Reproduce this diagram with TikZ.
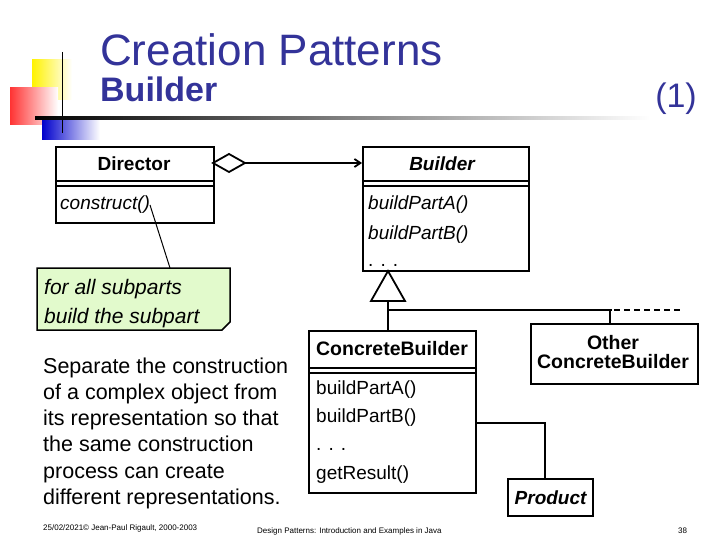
\documentclass[tikz,border=0pt]{standalone}
\usepackage{fontspec}
\setmainfont{Liberation Sans}
\usetikzlibrary{arrows.meta}
\begin{document}
\begin{tikzpicture}[x=1pt,y=-1pt,
  box/.style={draw,line width=2.2pt,inner sep=0pt},
  lnk/.style={line width=2pt},
  ttl/.style={text=titleblue,anchor=base west,inner sep=0pt},
  txt/.style={anchor=base west,inner sep=0pt,font=\fontsize{19}{22}\selectfont},
  foot/.style={anchor=base west,inner sep=0pt,font=\fontsize{8}{9}\selectfont}]
\definecolor{titleblue}{RGB}{51,51,153}
\definecolor{notegreen}{RGB}{226,250,204}
\useasboundingbox (0,0) rectangle (720,540);
% decoration
\shade[left color=yellow!90!orange,right color=white] (32,60) rectangle (72,100);
\shade[left color=red!80,right color=white] (10,88) rectangle (58,125);
\shade[left color=blue!80!black,right color=white] (42,118) rectangle (100,140);
\draw[line width=1pt] (62,52) -- (62,133);
\shade[left color=black,right color=white] (35,117) rectangle (650,119.5);
% titles
\node[ttl,font=\fontsize{44}{48}\selectfont] (t1) at (100,66) {Creation Patterns};
\node[ttl,font=\fontsize{34}{38}\selectfont\bfseries] (t2) at (100,102) {Builder};
\node[ttl,anchor=base east,font=\fontsize{34}{38}\selectfont] (t3) at (697,108) {(1)};
% Director
\node[box,minimum width=158pt,minimum height=76pt,anchor=north west] (dir) at (55,146) {};
\draw[line width=1.8pt] (55,181) -- (213,181) (55,186) -- (213,186);
\node[font=\fontsize{19}{20}\selectfont\bfseries] (dirt) at (134,164) {Director};
\node[txt,font=\fontsize{19}{22}\selectfont\itshape] (con) at (60,210) {construct()};
% Builder
\node[box,minimum width=166pt,minimum height=124pt,anchor=north west] (bld) at (362,146) {};
\draw[line width=1.8pt] (362,181) -- (528,181) (362,186) -- (528,186);
\node[font=\fontsize{19}{20}\selectfont\bfseries\itshape] (bldt) at (442,164) {Builder};
\node[txt,font=\fontsize{19}{22}\selectfont\itshape] (ba) at (368,210) {buildPartA()};
\node[txt,font=\fontsize{19}{22}\selectfont\itshape] (bb) at (368,240) {buildPartB()};
\node[txt] (bd) at (368,266) {. . .};
% aggregation
\coordinate (dm) at (213,163);
\draw[line width=1.8pt,fill=white] (dm) -- ++(16,-9) -- ++(16,9) -- ++(-16,9) -- cycle;
\draw[line width=1.8pt,-{Straight Barb[length=6pt,width=8pt]}] (245,163) -- (bld.west |- 0,163);
% note
\draw[line width=1.5pt,fill=notegreen] (37,268) -- (230,268) -- (230,322) -- (222,330) -- (37,330) -- cycle;
\node[txt,font=\fontsize{21}{24}\selectfont\itshape] (n1) at (44,294) {for all subparts};
\node[txt,font=\fontsize{21}{24}\selectfont\itshape] (n2) at (44,323) {build the subpart};
\draw[line width=1pt] (150,205) -- (170,268);
% inheritance
\coordinate (apex) at (388,271);
\draw[line width=1.8pt,fill=white] (apex) -- (405,301) -- (371,301) -- cycle;
\draw[lnk] (388,301) -- (388,330);
\draw[lnk] (387,310) -- (612,310);
\draw[lnk,dash pattern=on 6pt off 4pt] (614,310) -- (682,310);
\draw[lnk] (610,310) -- (610,323);
% ConcreteBuilder
\node[box,minimum width=167pt,minimum height=162pt,anchor=north west] (cb) at (308,330) {};
\draw[line width=1.8pt] (308,368) -- (475,368) (308,373) -- (475,373);
\node[font=\fontsize{19.5}{20}\selectfont\bfseries] (cbt) at (392,349) {ConcreteBuilder};
\node[txt] (ca) at (316,394) {buildPartA()};
\node[txt] (cbb) at (316,422) {buildPartB()};
\node[txt] (cd) at (316,450) {. . .};
\node[txt] (cg) at (316,479) {getResult()};
% Other
\node[box,minimum width=167pt,minimum height=60pt,anchor=north west] (oc) at (530,323) {};
\node[align=center,font=\fontsize{19.5}{19}\selectfont\bfseries] (oct) at (613,352) {Other\\ConcreteBuilder};
% Product
\node[box,minimum width=85pt,minimum height=37pt,anchor=north west,font=\fontsize{19}{20}\selectfont\bfseries\itshape] (pr) at (507,478) {Product};
\draw[lnk] (475,423) -- (545,423) -- (545,478);
% paragraph
\node[txt,font=\fontsize{21.5}{24}\selectfont] (p1) at (43,373) {Separate the construction};
\node[txt,font=\fontsize{21.5}{24}\selectfont] (p2) at (43,399) {of a complex object from};
\node[txt,font=\fontsize{21.5}{24}\selectfont] (p3) at (43,425) {its representation so that};
\node[txt,font=\fontsize{21.5}{24}\selectfont] (p4) at (43,451) {the same construction};
\node[txt,font=\fontsize{21.5}{24}\selectfont] (p5) at (43,478) {process can create};
\node[txt,font=\fontsize{21.5}{24}\selectfont] (p6) at (43,504) {different representations.};
% footer
\node[foot] (f1) at (43,530) {25/02/2021© Jean-Paul Rigault, 2000-2003};
\node[foot] (f2) at (257,533) {Design Patterns: Introduction and Examples in Java};
\node[foot] (f3) at (678,533) {38};
\end{tikzpicture}
\end{document}
